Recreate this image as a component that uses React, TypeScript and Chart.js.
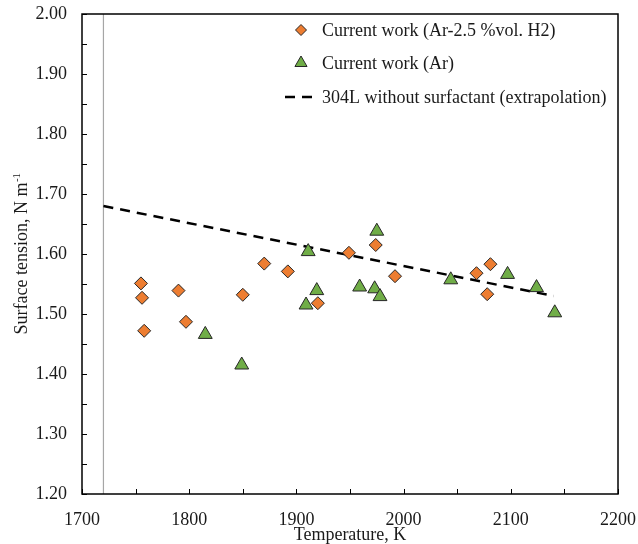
import React, { useEffect, useRef } from 'react';
import { Chart, registerables } from 'chart.js';

Chart.register(...registerables);

// ---- Data ----
const h2Temps = [1755, 1756, 1758, 1790, 1797, 1850, 1870, 1892, 1920, 1949, 1974, 1992, 2068, 2081, 2078];
const h2Tension = [1.551, 1.527, 1.472, 1.539, 1.487, 1.532, 1.584, 1.571, 1.518, 1.602, 1.615, 1.563, 1.568, 1.583, 1.533];

const arTemps = [1815, 1849, 1909, 1911, 1919, 1959, 1973, 1975, 1978, 2044, 2097, 2124, 2141];
const arTension = [1.466, 1.415, 1.515, 1.604, 1.539, 1.545, 1.542, 1.638, 1.529, 1.557, 1.566, 1.544, 1.502];

const refTemps = [1720, 2140];
const refTension = [1.68, 1.53];

const markerTemps = [1720, 1720];
const markerTension = [1.2, 2.0];

const seriesLabels = [
  'Current work (Ar-2.5 %vol. H2)',
  'Current work (Ar)',
  '304L without surfactant (extrapolation)',
];

const xTitle = 'Temperature, K';
const yTitleMain = 'Surface tension, N m';
const yTitleSup = '-1';

const FONT = '"Liberation Serif", "Times New Roman", serif';
const TEXT = '#1a1a1a';
const FS = 18;

const toPts = (xs: number[], ys: number[]) => xs.map((x, i) => ({ x, y: ys[i] }));

const framePlugin = {
  id: 'frameTicks',
  afterDraw(chart: any) {
    const { ctx, chartArea: a } = chart;
    const xs = chart.scales.x;
    const ys = chart.scales.y;
    ctx.save();
    ctx.strokeStyle = '#000';
    ctx.lineWidth = 1.5;
    ctx.strokeRect(a.left, a.top, a.right - a.left, a.bottom - a.top);
    ctx.lineWidth = 1;
    ctx.beginPath();
    xs.ticks.forEach((t: any) => {
      const px = Math.round(xs.getPixelForValue(t.value)) + 0.5;
      ctx.moveTo(px, a.bottom);
      ctx.lineTo(px, a.bottom - 5);
    });
    ys.ticks.forEach((t: any) => {
      const py = Math.round(ys.getPixelForValue(t.value)) + 0.5;
      ctx.moveTo(a.left, py);
      ctx.lineTo(a.left + 5, py);
    });
    ctx.stroke();

    // X title
    ctx.fillStyle = TEXT;
    ctx.font = `${FS}px ${FONT}`;
    ctx.textAlign = 'center';
    ctx.textBaseline = 'middle';
    ctx.fillText(xTitle, (a.left + a.right) / 2, 535);

    // Y title with superscript
    ctx.translate(22, (a.top + a.bottom) / 2);
    ctx.rotate(-Math.PI / 2);
    ctx.fillStyle = TEXT;
    ctx.textBaseline = 'middle';
    ctx.font = `${FS}px ${FONT}`;
    const w1 = ctx.measureText(yTitleMain).width;
    ctx.font = `${Math.round(FS * 0.62)}px ${FONT}`;
    const w2 = ctx.measureText(yTitleSup).width;
    const start = -(w1 + w2) / 2;
    ctx.font = `${FS}px ${FONT}`;
    ctx.textAlign = 'left';
    ctx.fillText(yTitleMain, start, 0);
    ctx.font = `${Math.round(FS * 0.62)}px ${FONT}`;
    ctx.fillText(yTitleSup, start + w1 + 0.5, -5);
    ctx.restore();

    // Legend
    const rowsY = [30, 63, 97];
    const markX = 301;
    const textX = 322;
    ctx.save();
    ctx.font = `${FS}px ${FONT}`;
    ctx.fillStyle = TEXT;
    ctx.textBaseline = 'middle';
    ctx.textAlign = 'left';
    const dsList = chart.data.datasets.filter((d: any) => d.inLegend);
    dsList.forEach((ds: any, i: number) => {
      const y = rowsY[i];
      ctx.save();
      if (ds.showLine) {
        ctx.strokeStyle = ds.borderColor;
        ctx.lineWidth = ds.borderWidth;
        ctx.setLineDash(ds.borderDash || []);
        ctx.beginPath();
        ctx.moveTo(markX - 16, y);
        ctx.lineTo(markX + 12, y);
        ctx.stroke();
      } else {
        ctx.fillStyle = ds.backgroundColor;
        ctx.strokeStyle = ds.borderColor;
        ctx.lineWidth = 1;
        ctx.beginPath();
        if (ds.pointStyle === 'rectRot') {
          const r = 5.5;
          ctx.moveTo(markX - r, y);
          ctx.lineTo(markX, y - r);
          ctx.lineTo(markX + r, y);
          ctx.lineTo(markX, y + r);
        } else {
          const r = 7;
          ctx.moveTo(markX, y - r);
          ctx.lineTo(markX + r * Math.sin((2 * Math.PI) / 3), y + r / 2);
          ctx.lineTo(markX - r * Math.sin((2 * Math.PI) / 3), y + r / 2);
        }
        ctx.closePath();
        ctx.fill();
        ctx.stroke();
      }
      ctx.restore();
      ctx.fillText(seriesLabels[i], textX, y + 1);
    });
    ctx.restore();
  },
};

export default function App() {
  const ref = useRef<HTMLCanvasElement>(null);
  useEffect(() => {
    if (!ref.current) return;
    const chart = new Chart(ref.current, {
      type: 'scatter',
      data: {
        datasets: [
          {
            label: seriesLabels[0],
            data: toPts(h2Temps, h2Tension),
            pointStyle: 'rectRot',
            pointRadius: 6.5,
            backgroundColor: '#ED7D31',
            borderColor: '#262626',
            borderWidth: 1,
            inLegend: true,
            order: 1,
          } as any,
          {
            label: seriesLabels[1],
            data: toPts(arTemps, arTension),
            pointStyle: 'triangle',
            pointRadius: 8,
            backgroundColor: '#70AD47',
            borderColor: '#262626',
            borderWidth: 1,
            inLegend: true,
            order: 0,
          } as any,
          {
            label: seriesLabels[2],
            data: toPts(refTemps, refTension),
            showLine: true,
            pointRadius: 0,
            borderColor: '#000',
            borderWidth: 2.5,
            borderDash: [10, 7],
            inLegend: true,
            order: 2,
          } as any,
          {
            label: 'marker',
            data: toPts(markerTemps, markerTension),
            showLine: true,
            pointRadius: 0,
            borderColor: '#a6a6a6',
            borderWidth: 1.2,
            order: 3,
          } as any,
        ],
      },
      options: {
        responsive: false,
        animation: false,
        layout: { padding: { left: 0, top: 14, right: 20, bottom: 0 } },
        plugins: { legend: { display: false }, tooltip: { enabled: false } },
        scales: {
          x: {
            type: 'linear',
            min: 1700,
            max: 2200,
            grid: { display: false },
            border: { display: false },
            ticks: {
              stepSize: 50,
              autoSkip: false,
              maxRotation: 0,
              padding: 7,
              color: TEXT,
              font: { family: FONT, size: FS },
              callback: (v: any) => (Number(v) % 100 === 0 ? String(v) : ''),
            },
            afterFit: (s: any) => {
              s.height = 50;
              s.paddingLeft = 0;
              s.paddingRight = 0;
            },
          },
          y: {
            type: 'linear',
            min: 1.2,
            max: 2.0,
            grid: { display: false },
            border: { display: false },
            ticks: {
              stepSize: 0.05,
              autoSkip: false,
              padding: 7,
              color: TEXT,
              font: { family: FONT, size: FS },
              callback: (v: any) => (Math.round(Number(v) * 100) % 10 === 0 ? Number(v).toFixed(2) : ''),
            },
            afterFit: (s: any) => {
              s.width = 82;
              s.paddingTop = 0;
              s.paddingBottom = 0;
            },
          },
        },
      },
      plugins: [framePlugin],
    });
    return () => chart.destroy();
  }, []);
  return (
    <div style={{ position: 'fixed', left: 0, top: 0, width: 638, height: 544, background: '#fff' }}>
      <canvas ref={ref} width={638} height={544} />
    </div>
  );
}
